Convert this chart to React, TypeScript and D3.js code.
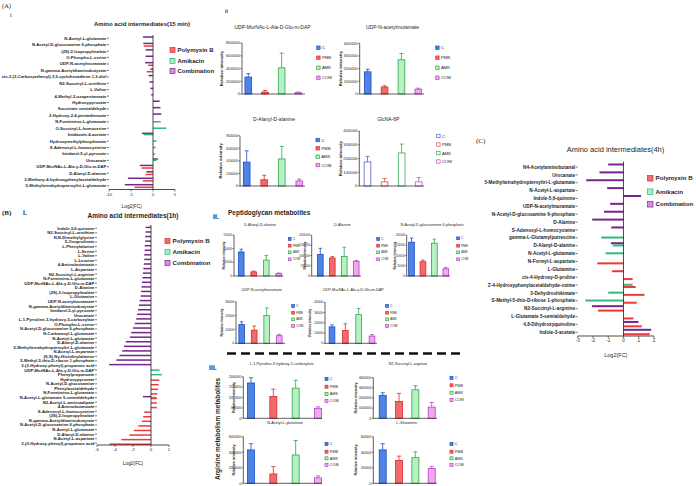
import React from 'react';
import * as d3 from 'd3';

const FONT = "'Liberation Sans', Arial, Helvetica, sans-serif";
const SERIF = "'Liberation Serif', 'Times New Roman', serif";
const INK = '#1e1e1e';

// ---------------- Panel A i : Amino acid intermediates (15 min) ----------------
const a15Labels = [
  'N-Acetyl-L-glutamate', 'N-Acetyl-D-glucosamine 6-phosphate', '(2S)-2-Isopropylmalate', 'O-Phospho-L-serine',
  'UDP-N-acetylmuramate', 'N-gamma-Acetyldiaminobutyrate', 'cis-3-(3-Carboxyethenyl)-3,5-cyclohexadiene-1,2-diol',
  'N2-Succinyl-L-ornithine', 'L-Valine', '4-Methyl-2-oxopentanoate', 'Hydroxypyruvate', 'Succinate semialdehyde',
  '2-Hydroxy-2,4-pentadienoate', 'N-Formimino-L-glutamate', 'O-Succinyl-L-homoserine', 'Imidazole-4-acetate',
  'Hydroxymethylphosphonate', 'S-Adenosyl-L-homocysteine', 'Imidazol-5-yl-pyruvate', 'Urocanate',
  'UDP-MurNAc-L-Ala-γ-D-Glu-m-DAP', 'D-Alanyl-D-alanine', '3-Methoxy-4-hydroxyphenylacetaldehyde',
  '5-Methyltetrahydropteroyltri-L-glutamate',
];
const a15Pmb = [0, -2.1, 0, 0, -1.1, -1.4, 0, 0, 0, 0, 0, 0, 0, 0, 0, 0, 0, 0, 0, 0, -2.6, -1.7, -2.3, -4.2];
const a15Amk = [0, 0, 0, 0, 0, 0, 0, 0, 0, 0, 0, 0, 0, 1.75, 3.0, -2.1, 0.8, 0.6, 0.5, 0.8, 0, 0, 0, 0];
const a15Comb = [-2.3, -2.2, -1.7, -1.7, -1.8, -0.6, -1.0, -0.8, -0.6, -0.4, 1.5, 1.7, 1.9, 0, 0, -2.5, 0, 0, 0, 1.1, -3.0, -1.5, -5.7, -6.4];

// ---------------- Panel B i : Amino acid intermediates (1h) ----------------
const b1Labels = [
  'Indole-5,6-quinone', 'N2-Succinyl-L-ornithine', 'N,N-Dimethylglycine', '5-Oxoprolinate', 'L-Phenylalanine',
  'L-Serine', 'L-Valine', 'L-Leucine', '4-Aminobutanoate', 'L-Aspartate', 'N2-Succinyl-L-arginine',
  'N-Formimino-L-glutamate', 'UDP-MurNAc-L-Ala-γ-D-Glu-m-DAP', 'D-Alanine', '(2S)-2-Isopropylmalate', 'L-Glutamine',
  'UDP-N-acetylmuramate', 'N-gamma-Acetyldiaminobutyrate', 'Imidazol-5-yl-pyruvate', 'Urocanate',
  'L-1-Pyrroline-3-hydroxy-5-carboxylate', 'O-Phospho-L-serine', 'N-Acetyl-D-glucosamine 6-phosphate',
  'N-Carbamoyl-L-glutamate', 'N-Acetyl-L-glutamate', 'D-Alanyl-D-alanine', '5-Methyltetrahydropteroyltri-L-glutamate',
  'N-Acetyl-L-aspartate', '(S,S)-Nγ-Histidinylalanine', '5-Methyl-5-thio-D-ribose 1-phosphate',
  '3-(3-Hydroxy-phenyl)-propanoic acid', 'UDP-MurNAc-L-Ala-γ-D-Glu-m-DAP', 'Phenylpropanoate', 'Hydroxypyruvate',
  'N-Acetyl-D-glucosamine', 'Phenylacetaldehyde', 'N-Formimino-L-glutamate', 'N-Acetyl-L-glutamate 5-semialdehyde',
  'N2-Acetyl-L-aminoadipate', '4-Aminobutanoate', 'S-Adenosyl-L-homocysteine', '(2S)-2-Isopropylmalate',
  'N-gamma-Acetyldiaminobutyrate', 'N-Acetyl-D-glucosamine 6-phosphate', 'N-Acetyl-L-glutamate',
  'D-Alanyl-D-alanine', 'N-Acetyl-L-aspartate', '3-(3-Hydroxy-phenyl)-propanoic acid',
];
const b1Comb = [
  -0.6, -0.6, -0.65, -0.65, -0.7, -0.7, -0.75, -0.75, -0.8, -0.85, -0.9, -0.95, -1.0, -1.05, -1.1, -1.15,
  -1.25, -1.35, -1.45, -1.55, -1.65, -1.8, -2.0, -2.2, -2.35, -2.8, -3.0, -3.2, -3.5, -3.85, -4.65,
  0, 0, 0, 0, 0, 0, -0.9, 0, 0, 0, 0, 0, 0, 0, 0, 0, 0,
];
const b1Amk = [
  0, 0, 0, 0, 0, 0, 0, 0, 0, 0, 0, 0, 0, 0, 0, 0, 0, 0, 0, 0, 0, 0, 0, 0, 0, 0, 0, 0, 0, 0, 0,
  0.95, 1.2, 0, 0, 0, 0, 0.6, 0, 0, 0, 0, 0, 0, 0, 0, 0, 0,
];
const b1Pmb = [
  0, 0, 0, 0, 0, 0, 0, 0, 0, 0, 0, 0, 0, 0, 0, 0, 0, 0, 0, 0, 0, 0, 0, 0, 0, 0, 0, 0, 0, 0, 0,
  0, 0, 0.93, 0.85, 0.78, 0.7, 0.65, 0.65, 0.65, -0.76, -0.87, -1.0, -1.4, -1.9, -2.4, -3.3, -4.6,
];

// ---------------- Panel C : Amino acid intermediates (4h) ----------------
const c4Labels = [
  'N4-Acetylaminobutanal', 'Urocanate', '5-Methyltetrahydropteroyltri-L-glutamate', 'N-Acetyl-L-aspartate',
  'Indole-5,6-quinone', 'UDP-N-acetylmuramate', 'N-Acetyl-D-glucosamine 6-phosphate', 'D-Alanine',
  'S-Adenosyl-L-homocysteine', 'gamma-L-Glutamylputrescine', 'D-Alanyl-D-alanine', 'N-Acetyl-L-glutamate',
  'N-Formyl-L-aspartate', 'L-Glutamine', 'cis-4-Hydroxy-D-proline', 'Z-4-Hydroxyphenylacetaldehyde-oxime',
  '3-Dehydroshikimate', 'S-Methyl-5-thio-D-ribose 1-phosphate', 'N2-Succinyl-L-arginine',
  'L-Glutamate 5-semialdehyde', '4,8-Dihydroxyquinoline', 'Indole-3-acetate',
];
const c4Comb = [-1.0, -1.57, -2.44, -1.07, 1.15, -0.87, -1.28, -2.05, -0.8, 0, -0.83, 0, 0, 0, 0, 0, 0, 0, -2.07, 0, 0.98, 1.82];
const c4Amk = [0, 0, 0, 0, 0, 0, 0, 0, 0, -1.46, -0.7, -1.17, 0, 0, 0, 0.6, -1.0, -2.5, 0, 0, 0, 0];
const c4Pmb = [0, 0, 0, 0, 0, 0, 0, 0, 0, 0, 0, 0, -1.72, -0.76, 0.6, 0.8, 1.37, 0.87, -1.67, 0.65, 1.2, 1.72];

const seriesNames = ['Polymyxin B', 'Amikacin', 'Combination'];
const groups = ['C', 'PMB', 'AMK', 'COM'];

// ---------------- Bar-chart data (mean, SD) ----------------
const aUdpMurDapMean = [265000, 30000, 410000, 20000];
const aUdpMurDapSd = [55000, 25000, 230000, 10000];
const aUdpMurMean = [175000, 55000, 270000, 38000];
const aUdpMurSd = [20000, 10000, 50000, 8000];
const aDAlaDAlaMean = [38000, 10000, 43000, 8000];
const aDAlaDAlaSd = [18000, 7000, 20000, 3000];
const aGlcNA6PMean = [175000, 30000, 240000, 30000];
const aGlcNA6PSd = [40000, 25000, 65000, 32000];

const bDAlaDAlaMean = [8800, 1500, 5800, 900];
const bDAlaDAlaSd = [1000, 300, 1700, 200];
const bDAlaMean = [105000, 88000, 95000, 72000];
const bDAlaSd = [30000, 7000, 45000, 4000];
const bGlcNAc6PMean = [16500, 7000, 16000, 3500];
const bGlcNAc6PSd = [2000, 800, 2000, 700];
const bUdpMurMean = [13500, 9500, 20000, 5500];
const bUdpMurSd = [2000, 3000, 5500, 1000];
const bUdpDapMean = [16000, 12500, 28000, 7000];
const bUdpDapSd = [2000, 6500, 6000, 1500];

const cPyrrMean = [170000, 105000, 145000, 48000];
const cPyrrSd = [25000, 35000, 38000, 7000];
const cSuccArgMean = [225000, 165000, 280000, 110000];
const cSuccArgSd = [25000, 80000, 40000, 45000];
const cAcGluMean = [430000, 120000, 365000, 70000];
const cAcGluSd = [80000, 95000, 185000, 25000];
const cGlnMean = [43000, 29500, 33000, 19000];
const cGlnSd = [8000, 5500, 7500, 2500];

// ---------------- styles ----------------
const HC = {
  pmb: { bar: '#ec3a3a', fill: '#f46c6c', stroke: '#df2b2b' },
  amk: { bar: '#33b97e', fill: '#aaeccf', stroke: '#2db27c' },
  comb: { bar: '#76278a', fill: '#d58fe2', stroke: '#7d2b8f' },
};
const BC = [
  { fill: '#4d84e6', stroke: '#1d4cc7', hollowStroke: '#5a5ad8' },
  { fill: '#f26a6a', stroke: '#dc2a2a', hollowStroke: '#e84848' },
  { fill: '#b7f1c3', stroke: '#2aa84c', hollowStroke: '#30b050' },
  { fill: '#f1a8f1', stroke: '#b53fc3', hollowStroke: '#c050d0' },
];

type HBarProps = {
  labels: string[]; pmb: number[]; amk: number[]; comb: number[];
  domain: [number, number]; ticks: number[]; x0: number; x1: number;
  yFirst: number; yLast: number; axisY: number; zeroTop: number;
  labelSize: number; barH: number; off: [number, number, number];
  tickSize: number; xLabelX?: number; xLabelY: number; xLabelSize: number;
};

function HBar(p: HBarProps) {
  const x = d3.scaleLinear().domain(p.domain).range([p.x0, p.x1]);
  const y = d3.scalePoint<number>().domain(d3.range(p.labels.length)).range([p.yFirst, p.yLast]);
  const z = x(0);
  const series = [
    { vals: p.comb, color: HC.comb.bar, off: p.off[0] },
    { vals: p.amk, color: HC.amk.bar, off: p.off[1] },
    { vals: p.pmb, color: HC.pmb.bar, off: p.off[2] },
  ];
  return (
    <g>
      {p.labels.map((l, i) => (
        <g key={'l' + i}>
          <text x={p.x0 - 2.6} y={(y(i) as number)} dy="0.35em" textAnchor="end" fontSize={p.labelSize} fontWeight="bold" fill={INK}>{l}</text>
          <line x1={p.x0 - 2} x2={p.x0} y1={y(i)} y2={y(i)} stroke={INK} strokeWidth={0.6} />
        </g>
      ))}
      {series.map((s, si) => s.vals.map((v, i) => v === 0 ? null : (
        <rect key={si + '-' + i} x={Math.min(x(v), z)} width={Math.abs(x(v) - z)}
          y={(y(i) as number) + s.off - p.barH / 2} height={p.barH} fill={s.color} />
      )))}
      <line x1={z} x2={z} y1={p.zeroTop} y2={p.axisY} stroke={INK} strokeWidth={0.8} />
      <line x1={p.x0} x2={p.x1} y1={p.axisY} y2={p.axisY} stroke={INK} strokeWidth={0.8} />
      {p.ticks.map(t => (
        <g key={'t' + t}>
          <line x1={x(t)} x2={x(t)} y1={p.axisY} y2={p.axisY + 2} stroke={INK} strokeWidth={0.6} />
          <text x={x(t)} y={p.axisY + 2.5 + p.tickSize * 0.85} textAnchor="middle" fontSize={p.tickSize} fill={INK}>{t}</text>
        </g>
      ))}
      <text x={p.xLabelX ?? (p.x0 + p.x1) / 2} y={p.xLabelY} textAnchor="middle" fontSize={p.xLabelSize} fill={INK}>Log2(FC)</text>
    </g>
  );
}

function SeriesLegend({ x, ys, size, font }: { x: number; ys: number[]; size: number; font: number }) {
  const cols = [HC.pmb, HC.amk, HC.comb];
  return (
    <g>
      {seriesNames.map((n, i) => (
        <g key={n}>
          <rect x={x} y={ys[i] - size / 2} width={size} height={size} fill={cols[i].fill} stroke={cols[i].stroke} strokeWidth={0.7} />
          <text x={x + size + 2.5} y={ys[i]} dy="0.35em" fontSize={font} fontWeight="bold" fill={INK}>{n}</text>
        </g>
      ))}
    </g>
  );
}

type SBProps = {
  axisX: number; y0: number; yTop: number; max: number; step: number;
  cx0: number; cx1: number; bw: number; mean: number[]; sd: number[]; hollow?: boolean;
  xEnd: number; tickSize: number; title?: string; titleX?: number; titleY?: number; titleSize?: number;
  legX: number; legYs: number[]; legSize: number; legFont: number; ylabX: number; ylabSize: number;
};

function SmallBar(p: SBProps) {
  const y = d3.scaleLinear().domain([0, p.max]).range([p.y0, p.yTop]);
  const x = d3.scalePoint<string>().domain(groups).range([p.cx0, p.cx1]);
  const ticks = d3.range(0, p.max + 1, p.step);
  const cap = p.bw * 0.3;
  return (
    <g>
      {p.title && <text x={p.titleX} y={p.titleY} dy="0.35em" textAnchor="middle" fontSize={p.titleSize} fill={INK}>{p.title}</text>}
      <text transform={`translate(${p.ylabX},${(p.y0 + p.yTop) / 2}) rotate(-90)`} textAnchor="middle" dy="0.35em"
        fontSize={p.ylabSize} fontWeight="bold" fill={INK}>Relative intensity</text>
      {groups.map((g, i) => {
        const c = BC[i];
        const cx = x(g) as number;
        const top = y(p.mean[i]);
        const et = y(p.mean[i] + p.sd[i]);
        const st = p.hollow ? c.hollowStroke : c.stroke;
        return (
          <g key={g}>
            <line x1={cx} x2={cx} y1={top} y2={et} stroke={st} strokeWidth={0.8} />
            <line x1={cx - cap} x2={cx + cap} y1={et} y2={et} stroke={st} strokeWidth={0.8} />
            <rect x={cx - p.bw / 2} y={top} width={p.bw} height={p.y0 - top}
              fill={p.hollow ? '#ffffff' : c.fill} stroke={st} strokeWidth={0.8} />
          </g>
        );
      })}
      <line x1={p.axisX} x2={p.axisX} y1={p.y0} y2={p.yTop} stroke={INK} strokeWidth={0.7} />
      <line x1={p.axisX} x2={p.xEnd} y1={p.y0} y2={p.y0} stroke={INK} strokeWidth={0.7} />
      {ticks.map(t => (
        <g key={t}>
          <line x1={p.axisX - 1.5} x2={p.axisX} y1={y(t)} y2={y(t)} stroke={INK} strokeWidth={0.6} />
          <text x={p.axisX - 2} y={y(t)} dy="0.35em" textAnchor="end" fontSize={p.tickSize} fill={INK}>{t}</text>
        </g>
      ))}
      {groups.map((g, i) => {
        const c = BC[i];
        return (
          <g key={'lg' + g}>
            <rect x={p.legX} y={p.legYs[i] - p.legSize / 2} width={p.legSize} height={p.legSize}
              fill={p.hollow ? '#ffffff' : c.fill} stroke={p.hollow ? c.hollowStroke : c.stroke} strokeWidth={0.7} />
            <text x={p.legX + p.legSize + 1.8} y={p.legYs[i]} dy="0.35em" fontSize={p.legFont} fill={INK}>{g}</text>
          </g>
        );
      })}
    </g>
  );
}

export default function App() {
  const aCommon = { tickSize: 4.2, legSize: 3.4, legFont: 4.3, ylabSize: 4.3, titleSize: 5, bw: 6.7 };
  const bCommon = { tickSize: 3.2, legSize: 2.8, legFont: 3.0, ylabSize: 3.4, titleSize: 3.8, bw: 5.7 };
  const cCommon = { tickSize: 3.8, legSize: 3, legFont: 3.8, ylabSize: 3.8, bw: 7 };
  return (
    <svg width={696} height={486} viewBox="0 0 696 486" style={{ position: 'absolute', left: 0, top: 0, background: '#fff' }}
      fontFamily={FONT}>
      <rect width={696} height={486} fill="#fff" />

      {/* ---------- Panel A i ---------- */}
      <text x={2} y={8} fontSize={6.5} fontFamily={SERIF} fill={INK}>(A)</text>
      <text x={10} y={17} fontSize={6} fontFamily={SERIF} fill={INK}>i</text>
      <text x={142} y={26} textAnchor="middle" fontSize={6} fontWeight="bold" fill={INK}>Amino acid intermediates(15 min)</text>
      <HBar labels={a15Labels} pmb={a15Pmb} amk={a15Amk} comb={a15Comb} domain={[-10, 5]} ticks={[-10, -5, 0, 5]}
        x0={109} x1={175} yFirst={38.3} yLast={186} axisY={189.5} zeroTop={35} labelSize={4.2} barH={1.5}
        off={[-1.3, 0, 1.3]} tickSize={4.3} xLabelX={131.7} xLabelY={208} xLabelSize={4.8} />
      <SeriesLegend x={170} ys={[50, 61, 71]} size={5} font={6} />

      {/* ---------- Panel A ii ---------- */}
      <text x={225} y={13} fontSize={5} fontWeight="bold" fill={INK}>ii</text>
      <SmallBar {...aCommon} axisX={242} y0={94} yTop={43} max={800000} step={200000} cx0={248.3} cx1={298.3}
        mean={aUdpMurDapMean} sd={aUdpMurDapSd} xEnd={305} title="UDP-MurNAc-L-Ala-D-Glu-m-DAP" titleX={272.5} titleY={27.5}
        legX={316.7} legYs={[47.7, 57.7, 67.7, 77.7]} ylabX={221} />
      <SmallBar {...aCommon} axisX={359.7} y0={94} yTop={43.3} max={400000} step={100000} cx0={367.7} cx1={418.3}
        mean={aUdpMurMean} sd={aUdpMurSd} xEnd={424} title="UDP-N-acetylmuramate" titleX={392.5} titleY={27.5}
        legX={435.7} legYs={[47.7, 57.7, 67.7, 77.7]} ylabX={340} />
      <SmallBar {...aCommon} axisX={240} y0={186} yTop={135.7} max={80000} step={20000} cx0={246.7} cx1={299.3}
        mean={aDAlaDAlaMean} sd={aDAlaDAlaSd} xEnd={305} title="D-Alanyl-D-alanine" titleX={274} titleY={119.3}
        legX={316} legYs={[140, 148.3, 156.7, 165]} ylabX={220} />
      <SmallBar {...aCommon} axisX={359.3} y0={186} yTop={131} max={400000} step={100000} cx0={367.5} cx1={418.7}
        mean={aGlcNA6PMean} sd={aGlcNA6PSd} hollow xEnd={424} title="GlcNA-6P" titleX={388.3} titleY={119.3}
        legX={436.7} legYs={[136, 144.5, 153, 161.5]} ylabX={340} />

      {/* ---------- Panel B i ---------- */}
      <text x={2} y={215} fontSize={7} fontWeight="bold" fontFamily={SERIF} fill={INK}>(B)</text>
      <text x={23} y={215} fontSize={7} fontWeight="bold" fill={INK}>i.</text>
      <text x={133} y={218} textAnchor="middle" fontSize={6.5} fontWeight="bold" fill={INK}>Amino acid intermediates(1h)</text>
      <HBar labels={b1Labels} pmb={b1Pmb} amk={b1Amk} comb={b1Comb} domain={[-6, 2]} ticks={[-6, -4, -2, 0, 2]}
        x0={97} x1={169} yFirst={228.3} yLast={443.3} axisY={445} zeroTop={225} labelSize={4.2} barH={1.5}
        off={[-0.9, 0, 0.9]} tickSize={4.3} xLabelY={465} xLabelSize={4.8} />
      <SeriesLegend x={165} ys={[241, 252, 263]} size={5} font={6.2} />

      {/* ---------- Panel B ii ---------- */}
      <text x={213} y={219} fontSize={7} fontWeight="bold" fill={INK}>ii.</text>
      <text x={228} y={215} fontSize={6.5} fontWeight="bold" fill={INK}>Peptidoglycan metabolites</text>
      <SmallBar {...bCommon} axisX={234} y0={276} yTop={235} max={15000} step={5000} cx0={241.2} cx1={278.8}
        mean={bDAlaDAlaMean} sd={bDAlaDAlaSd} xEnd={283.3} title="D-Alanyl-D-alanine" titleX={260} titleY={225}
        legX={288.3} legYs={[239, 245.7, 252.3, 259.3]} ylabX={223.3} />
      <SmallBar {...bCommon} axisX={311.7} y0={276} yTop={235} max={200000} step={50000} cx0={320.3} cx1={356.2}
        mean={bDAlaMean} sd={bDAlaSd} xEnd={361} title="D-Alanine" titleX={342.3} titleY={225}
        legX={376.7} legYs={[239, 245.7, 252.3, 259.3]} ylabX={304.5} />
      <SmallBar {...bCommon} axisX={406.7} y0={276} yTop={235} max={20000} step={5000} cx0={411.5} cx1={445.8}
        mean={bGlcNAc6PMean} sd={bGlcNAc6PSd} xEnd={450} title="N-Acetyl-D-glucosamine 6-phosphate" titleX={432} titleY={225}
        legX={456.7} legYs={[238.3, 245.7, 252.3, 259.3]} ylabX={395} />
      <SmallBar {...bCommon} axisX={236} y0={343.3} yTop={301.7} max={30000} step={10000} cx0={241.7} cx1={279.2}
        mean={bUdpMurMean} sd={bUdpMurSd} xEnd={285} title="UDP-N-acetylmuramate" titleX={261.7} titleY={290}
        legX={291.7} legYs={[306, 312.7, 319.3, 326]} ylabX={222} />
      <SmallBar {...bCommon} axisX={325} y0={343.3} yTop={302.3} max={40000} step={10000} cx0={332} cx1={372}
        mean={bUdpDapMean} sd={bUdpDapSd} xEnd={377} title="UDP-MurNAc-L-Ala-γ-D-Glu-m-DAP" titleX={353.3} titleY={290}
        legX={385.7} legYs={[306, 312.7, 319.3, 326]} ylabX={310} />
      <line x1={227} x2={462} y1={353.5} y2={353.5} stroke="#111" strokeWidth={2.4} strokeDasharray="9 5" />

      {/* ---------- Panel B iii ---------- */}
      <text x={209} y={370} fontSize={7} fontWeight="bold" fill={INK}>iii.</text>
      <text x={281.7} y={363.3} dy="0.35em" textAnchor="middle" fontSize={3.8} fill={INK}>L-1-Pyrroline-3-hydroxy-5-carboxylate</text>
      <text x={408} y={363.3} dy="0.35em" textAnchor="middle" fontSize={3.8} fill={INK}>N2-Succinyl-L-arginine</text>
      <text x={285} y={422.3} dy="0.35em" textAnchor="middle" fontSize={3.8} fill={INK}>N-Acetyl-L-glutamate</text>
      <text x={406.7} y={422.3} dy="0.35em" textAnchor="middle" fontSize={3.8} fill={INK}>L-Glutamine</text>
      <text transform="translate(218,429) rotate(-90)" textAnchor="middle" dy="0.35em" fontSize={6.5} fontWeight="bold" fill={INK}>
        Arginine metabolism metabolites</text>
      <SmallBar {...cCommon} axisX={243.3} y0={418.3} yTop={376.7} max={200000} step={50000} cx0={251} cx1={318}
        mean={cPyrrMean} sd={cPyrrSd} xEnd={322} legX={325} legYs={[379, 386.7, 394, 401]} ylabX={233.3} />
      <SmallBar {...cCommon} axisX={373.3} y0={418.3} yTop={377.5} max={400000} step={100000} cx0={382.7} cx1={431.7}
        mean={cSuccArgMean} sd={cSuccArgSd} xEnd={437} legX={450} legYs={[378, 385.3, 392.7, 400]} ylabX={355.7} />
      <SmallBar {...cCommon} axisX={243.3} y0={483.3} yTop={436.7} max={600000} step={200000} cx0={251} cx1={318}
        mean={cAcGluMean} sd={cAcGluSd} xEnd={322} legX={325} legYs={[444, 451.7, 458.3, 465]} ylabX={233.3} />
      <SmallBar {...cCommon} axisX={373.3} y0={483.3} yTop={436.7} max={60000} step={20000} cx0={382.7} cx1={431.7}
        mean={cGlnMean} sd={cGlnSd} xEnd={437} legX={450} legYs={[444, 451.7, 458.3, 465]} ylabX={355.7} />

      {/* ---------- Panel C ---------- */}
      <text x={476} y={143} fontSize={7} fontFamily={SERIF} fill={INK}>(C)</text>
      <text x={615.5} y={152} textAnchor="middle" fontSize={7.5} fill={INK}>Amino acid intermediates(4h)</text>
      <HBar labels={c4Labels} pmb={c4Pmb} amk={c4Amk} comb={c4Comb} domain={[-3, 2]} ticks={[-3, -2, -1, 0, 1, 2]}
        x0={577.7} x1={654} yFirst={167} yLast={332.3} axisY={336} zeroTop={161.7} labelSize={4.7} barH={2}
        off={[-2.5, -0.3, 1.9]} tickSize={4.6} xLabelY={357} xLabelSize={5.5} />
      <SeriesLegend x={647.5} ys={[178.3, 191.7, 204.3]} size={5.5} font={6.2} />
    </svg>
  );
}
